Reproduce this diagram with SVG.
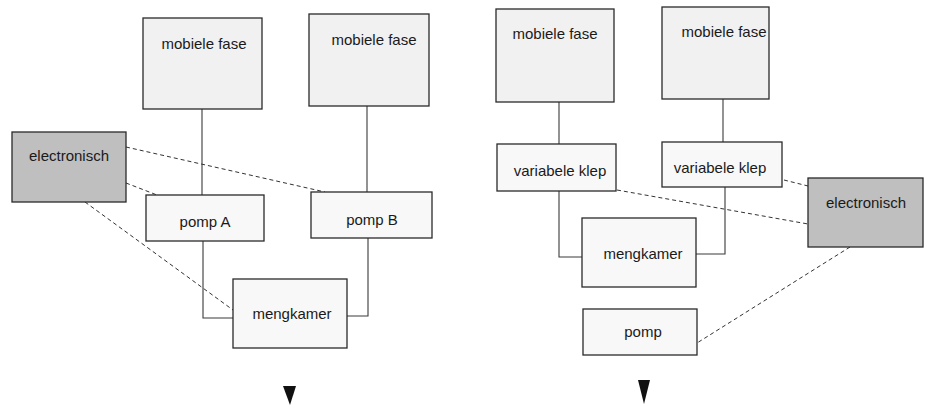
<svg xmlns="http://www.w3.org/2000/svg" width="926" height="406" viewBox="0 0 926 406">
  <style>
    .box { fill: #f8f8f8; stroke: #2a2a2a; stroke-width: 1.3; }
    .box.tank { fill: #f1f1f1; }
    .box.ctrl { fill: #bfbfbf; }
    .pipe { fill: none; stroke: #3a3a3a; stroke-width: 1.1; }
    .sig { fill: none; stroke: #333; stroke-width: 1; stroke-dasharray: 4 3; }
    .lbl { font-family: "Liberation Sans", Arial, sans-serif; font-size: 15px; fill: #1a1a1a; text-anchor: middle; }
    .flow { fill: #111; }
  </style>

  <rect width="926" height="406" fill="#ffffff"/>

  <!-- tubing and control wiring -->
  <g id="connectors">
    <!-- left system: high-pressure mixing -->
    <line class="pipe" x1="202" y1="109" x2="202" y2="195"/>
    <line class="pipe" x1="367" y1="106" x2="367" y2="192"/>
    <polyline class="pipe" points="203,241 203,318 233,318"/>
    <polyline class="pipe" points="368,238 368,316 347,316"/>
    <line class="sig" x1="126" y1="147" x2="325" y2="192"/>
    <line class="sig" x1="126" y1="183" x2="157" y2="195"/>
    <line class="sig" x1="85" y1="202" x2="233" y2="310"/>

    <!-- right system: low-pressure mixing -->
    <line class="pipe" x1="559" y1="102" x2="559" y2="144"/>
    <line class="pipe" x1="723" y1="99" x2="723" y2="142"/>
    <polyline class="pipe" points="559,191 559,257 582,257"/>
    <polyline class="pipe" points="725,187 725,254 696,254"/>
    <line class="sig" x1="617" y1="190" x2="808" y2="224"/>
    <line class="sig" x1="784" y1="180" x2="808" y2="186"/>
    <line class="sig" x1="850" y1="247" x2="697" y2="343"/>

    <!-- flow direction to column -->
    <polygon class="flow" points="283,386 296,386 290,405"/>
    <polygon class="flow" points="638,380 650,380 644,404"/>
  </g>

  <!-- left system -->
  <g id="mobiele-fase-1">
    <rect class="box tank" x="143" y="18" width="119" height="91"/>
    <text class="lbl" x="204" y="49">mobiele fase</text>
  </g>
  <g id="mobiele-fase-2">
    <rect class="box tank" x="309" y="14" width="120" height="92"/>
    <text class="lbl" x="374" y="45">mobiele fase</text>
  </g>
  <g id="electronisch-1">
    <rect class="box ctrl" x="12" y="132" width="114" height="70"/>
    <text class="lbl" x="69" y="161">electronisch</text>
  </g>
  <g id="pomp-a">
    <rect class="box" x="146" y="195" width="118" height="46"/>
    <text class="lbl" x="205" y="227">pomp A</text>
  </g>
  <g id="pomp-b">
    <rect class="box" x="311" y="192" width="121" height="46"/>
    <text class="lbl" x="372" y="225">pomp B</text>
  </g>
  <g id="mengkamer-1">
    <rect class="box" x="233" y="279" width="114" height="69"/>
    <text class="lbl" x="292" y="319">mengkamer</text>
  </g>

  <!-- right system -->
  <g id="mobiele-fase-3">
    <rect class="box tank" x="496" y="9" width="118" height="93"/>
    <text class="lbl" x="555" y="39">mobiele fase</text>
  </g>
  <g id="mobiele-fase-4">
    <rect class="box tank" x="662" y="7" width="107" height="92"/>
    <text class="lbl" x="724" y="37">mobiele fase</text>
  </g>
  <g id="variabele-klep-1">
    <rect class="box" x="497" y="144" width="119" height="47"/>
    <text class="lbl" x="560" y="176">variabele klep</text>
  </g>
  <g id="variabele-klep-2">
    <rect class="box" x="662" y="142" width="120" height="45"/>
    <text class="lbl" x="720" y="173">variabele klep</text>
  </g>
  <g id="electronisch-2">
    <rect class="box ctrl" x="808" y="178" width="115" height="69"/>
    <text class="lbl" x="866" y="208">electronisch</text>
  </g>
  <g id="mengkamer-2">
    <rect class="box" x="582" y="218" width="114" height="69"/>
    <text class="lbl" x="643" y="259">mengkamer</text>
  </g>
  <g id="pomp">
    <rect class="box" x="583" y="309" width="114" height="46"/>
    <text class="lbl" x="643" y="337">pomp</text>
  </g>
</svg>
